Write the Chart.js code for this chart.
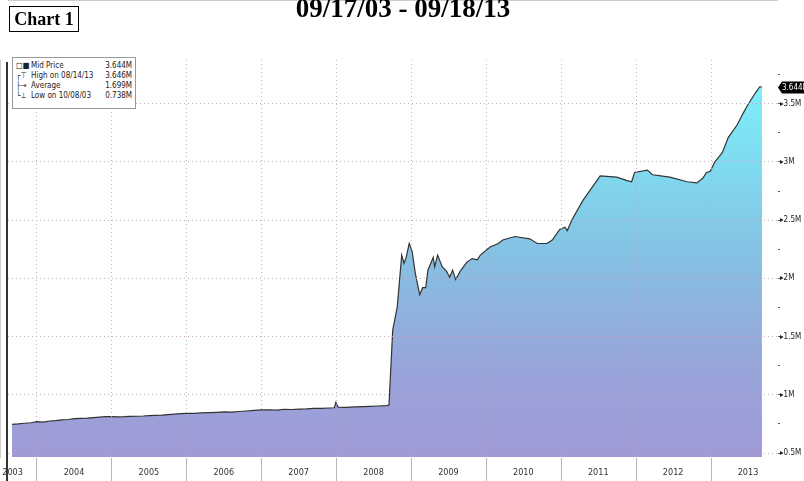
<!DOCTYPE html>
<html>
<head>
<meta charset="utf-8">
<script src="https://cdn.jsdelivr.net/npm/chart.js@4"></script>
<style>
body { margin: 0; background: #fff; }
#wrap { position: relative; width: 804px; height: 481px; overflow: hidden; }
#chart { position: absolute; left: 0; top: 0; }
#tag { position: absolute; left: 9px; top: 6px; width: 68px; height: 24px; border: 1px solid #000;
       font: bold 18px "Liberation Serif", serif; text-align: center; line-height: 25px; }
#title { position: absolute; left: 0; top: -7px; width: 806px; text-align: center;
         font: bold 27px "Liberation Serif", serif; line-height: 30px; }
#frame { position: absolute; left: 6px; top: 62px; width: 2px; height: 419px; background: #333; }
#legend { position: absolute; left: 12px; top: 57px; width: 122px; height: 47px; border: 1px solid #999;
          background: #fff; font: 8px "DejaVu Sans Condensed", sans-serif; color: #222; padding-top: 3px; }
#legend div { height: 10px; line-height: 10px; position: relative; }
#legend .ic { position: absolute; left: 3px; width: 14px; }
#legend .nm { position: absolute; left: 18px; }
#legend .vl { position: absolute; right: 3px; }
</style>
</head>
<body>
<div id="wrap">
  <canvas id="chart" width="804" height="481"></canvas>
  <div id="frame"></div>
  <div id="tag">Chart 1</div>
  <div id="title">09/17/03 - 09/18/13</div>
  <div id="legend">
    <div><span class="ic">□■</span><span class="nm">Mid Price</span><span class="vl">3.644M</span></div>
    <div><span class="ic">┌⊤</span><span class="nm">High on 08/14/13</span><span class="vl">3.646M</span></div>
    <div><span class="ic">├→</span><span class="nm">Average</span><span class="vl">1.699M</span></div>
    <div><span class="ic">└⊥</span><span class="nm">Low on 10/08/03</span><span class="vl">0.738M</span></div>
  </div>
</div>
<script>
// mid price, decimal year vs millions
var dates = [
    2003.666, 2003.75, 2003.83, 2003.92, 2004.00, 2004.08, 2004.17, 2004.25, 2004.33, 2004.42,
    2004.50, 2004.58, 2004.67, 2004.75, 2004.83, 2004.92, 2005.00, 2005.08, 2005.17, 2005.25,
    2005.33, 2005.42, 2005.50, 2005.58, 2005.67, 2005.75, 2005.83, 2005.92, 2006.00, 2006.10,
    2006.20, 2006.30, 2006.40, 2006.50, 2006.60, 2006.70, 2006.80, 2006.90, 2007.00, 2007.10,
    2007.20, 2007.30, 2007.40, 2007.50, 2007.60, 2007.70, 2007.80, 2007.90, 2007.97, 2007.99,
    2008.02, 2008.12, 2008.25, 2008.35, 2008.45, 2008.55, 2008.67, 2008.70, 2008.75, 2008.81,
    2008.87, 2008.90, 2008.93, 2008.97, 2009.01, 2009.05, 2009.11, 2009.15, 2009.19, 2009.22,
    2009.29, 2009.31, 2009.35, 2009.41, 2009.47, 2009.51, 2009.55, 2009.59, 2009.65, 2009.74,
    2009.81, 2009.88, 2009.92, 2010.05, 2010.16, 2010.22, 2010.38, 2010.58, 2010.68, 2010.81,
    2010.88, 2010.98, 2011.05, 2011.08, 2011.14, 2011.29, 2011.52, 2011.74, 2011.88, 2011.94,
    2011.98, 2012.15, 2012.22, 2012.45, 2012.68, 2012.81, 2012.89, 2012.94, 2012.99, 2013.05,
    2013.15, 2013.23, 2013.35, 2013.43, 2013.49, 2013.59, 2013.65, 2013.68
];
var midPrice = [
    0.747, 0.750, 0.756, 0.760, 0.769, 0.766, 0.775, 0.778, 0.785, 0.788,
    0.795, 0.797, 0.800, 0.805, 0.808, 0.812, 0.814, 0.810, 0.812, 0.815,
    0.816, 0.818, 0.821, 0.823, 0.826, 0.830, 0.834, 0.838, 0.841, 0.840,
    0.845, 0.847, 0.850, 0.853, 0.852, 0.857, 0.861, 0.866, 0.870, 0.872,
    0.868, 0.876, 0.874, 0.878, 0.880, 0.884, 0.883, 0.887, 0.889, 0.935,
    0.895, 0.893, 0.896, 0.899, 0.901, 0.904, 0.908, 0.912, 1.557, 1.754,
    2.20, 2.13, 2.18, 2.30, 2.23, 2.05, 1.86, 1.92, 1.92, 2.07,
    2.18, 2.10, 2.20, 2.10, 2.06, 2.01, 2.07, 1.99, 2.06, 2.14,
    2.17, 2.16, 2.20, 2.27, 2.30, 2.33, 2.36, 2.34, 2.30, 2.30,
    2.33, 2.42, 2.44, 2.41, 2.50, 2.67, 2.88, 2.87, 2.84, 2.83,
    2.91, 2.93, 2.89, 2.87, 2.83, 2.82, 2.86, 2.91, 2.92, 3.00,
    3.08, 3.21, 3.32, 3.42, 3.49, 3.59, 3.646, 3.644
];

var yearTicks = [2003.18, 2004, 2005, 2006, 2007, 2008, 2009, 2010, 2011, 2012, 2013];
var yearLabels = ['2003', '2004', '2005', '2006', '2007', '2008', '2009', '2010', '2011', '2012', '2013'];
var priceTicks = [0.5, 0.75, 1, 1.25, 1.5, 1.75, 2, 2.25, 2.5, 2.75, 3, 3.25, 3.5, 3.75];

var xMin = 2003.613, xMax = 2013.881;
var yMin = 0.466, yMax = 3.876;
var dotColor = 'rgba(190, 160, 190, 0.85)';
var smallFont = 'DejaVu Sans Condensed';

var points = [];
for ( i = 0; i < dates.length; ++i ) {
    points.push({ x: dates[i], y: midPrice[i] });
}

// black tag with the last price on the right axis
var lastTag = {
    id: 'lastTag',
    afterDraw: function(chart) {
        var ctx = chart.ctx;
        var yScale = chart.scales.y;
        var v = midPrice[midPrice.length - 1];
        var py = Math.round(yScale.getPixelForValue(v)) + 0.5;
        var x0 = yScale.left + 1;
        ctx.save();
        ctx.fillStyle = '#000';
        ctx.beginPath();
        ctx.moveTo(x0, py);
        ctx.lineTo(x0 + 4, py - 6);
        ctx.lineTo(806, py - 6);
        ctx.lineTo(806, py + 6);
        ctx.lineTo(x0 + 4, py + 6);
        ctx.closePath();
        ctx.fill();
        ctx.fillStyle = '#fff';
        ctx.font = '8px "' + smallFont + '"';
        ctx.textBaseline = 'middle';
        ctx.fillText(v.toFixed(3) + 'M', x0 + 4, py + 0.5);
        ctx.restore();
    }
};

var ctx = document.getElementById('chart').getContext('2d');
var myChart = new Chart(ctx, {
    type: 'line',
    data: {
        datasets: [{
            label: 'Mid Price',
            data: points,
            borderColor: '#333',
            borderWidth: 1.2,
            pointRadius: 0,
            tension: 0,
            fill: 'start',
            backgroundColor: function(context) {
                var area = context.chart.chartArea;
                if (!area) {
                    return 'rgba(130, 190, 225, 1)';
                }
                var g = context.chart.ctx.createLinearGradient(0, area.bottom, 0, area.top);
                g.addColorStop(0, '#9f9ad6');
                g.addColorStop(0.25, '#97a6da');
                g.addColorStop(0.5, '#86c0e2');
                g.addColorStop(0.75, '#7fdcf0');
                g.addColorStop(1, '#7ef4fc');
                return g;
            }
        }]
    },
    options: {
        animation: false,
        responsive: false,
        layout: { padding: { top: 60, left: 8, right: 0, bottom: 0 } },
        plugins: {
            legend: { display: false },
            tooltip: { enabled: false }
        },
        scales: {
            x: {
                type: 'linear',
                min: xMin,
                max: xMax,
                afterBuildTicks: function(scale) {
                    scale.ticks = yearTicks.map(function(v) { return { value: v }; });
                },
                afterFit: function(scale) {
                    scale.height = 24;
                    scale.paddingLeft = 0;
                    scale.paddingRight = 0;
                },
                ticks: {
                    autoSkip: false,
                    maxRotation: 0,
                    labelOffset: 37,
                    padding: -14,
                    color: '#333',
                    font: { family: smallFont, size: 9 },
                    callback: function(value, index) { return yearLabels[index]; }
                },
                grid: {
                    z: 1,
                    color: dotColor,
                    lineWidth: 1,
                    tickLength: 24,
                    tickColor: '#b8b8b8',
                    tickWidth: 1,
                    tickBorderDash: []
                },
                border: { display: true, color: '#999', width: 1, dash: [1, 3] }
            },
            y: {
                type: 'linear',
                position: 'right',
                min: yMin,
                max: yMax,
                afterBuildTicks: function(scale) {
                    scale.ticks = priceTicks.map(function(v) { return { value: v }; });
                },
                afterFit: function(scale) {
                    scale.width = 27;
                    scale.paddingTop = 0;
                    scale.paddingBottom = 0;
                },
                ticks: {
                    autoSkip: false,
                    padding: 0,
                    color: '#222',
                    font: { family: smallFont, size: 8 },
                    callback: function(value) {
                        if (Math.abs(value * 2 - Math.round(value * 2)) > 0.001) {
                            return '';
                        }
                        return '\u25B8' + value + 'M';
                    }
                },
                grid: {
                    z: 1,
                    color: function(context) {
                        var v = context.tick ? context.tick.value : 0;
                        return Math.abs(v * 2 - Math.round(v * 2)) < 0.001 ? dotColor : 'rgba(0,0,0,0)';
                    },
                    tickLength: 3,
                    tickColor: '#555',
                    tickBorderDash: []
                },
                border: { display: true, color: '#999', width: 1, dash: [1, 3] }
            }
        }
    },
    plugins: [lastTag]
});
</script>
</body>
</html>
